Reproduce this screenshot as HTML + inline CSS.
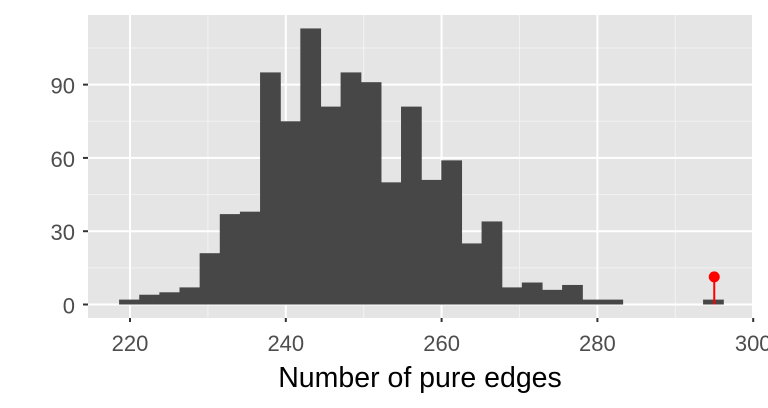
<!DOCTYPE html>
<html><head><meta charset="utf-8"><style>
body{margin:0;background:#fff;font-family:"Liberation Sans",Arial,sans-serif}
</style></head><body>
<svg width="768" height="403" id="c" xmlns="http://www.w3.org/2000/svg"></svg>
<script>
const counts=[2,4,5,7,21,37,38,95,75,113,81,95,91,50,81,51,59,25,34,7,9,6,8,2,2,0,0,0,0,2];
const binStart=218.6;
const binWidth=2.585;
const xTicks=[220,240,260,280,300];
const yTicks=[0,30,60,90];
const observed=[295.0,11.3];
const L=88,R=752,T=15,B=318;
const xs=v=>130+(v-220)*7.79;
const ys=v=>304.5-v*2.443;
const svg=document.getElementById('c');
const NS='http://www.w3.org/2000/svg';
function mk(t,a){const e=document.createElementNS(NS,t);for(const k in a)e.setAttribute(k,a[k]);svg.appendChild(e);return e;}
let p=mk('rect',{x:L,y:T,width:R-L,height:B-T,fill:'#e5e5e5'});


for(let i=0;i<xTicks.length-1;i++){const v=(xTicks[i]+xTicks[i+1])/2;const g=mk('line',{x1:xs(v),x2:xs(v),y1:T,y2:B,stroke:'#f2f2f2','stroke-width':1});}
for(let i=0;i<yTicks.length;i++){const v=yTicks[i]+15;const g=mk('line',{x1:L,x2:R,y1:ys(v),y2:ys(v),stroke:'#f2f2f2','stroke-width':1});}
xTicks.forEach(v=>{const g=mk('line',{x1:xs(v),x2:xs(v),y1:T,y2:B,stroke:'#fff','stroke-width':2});
const t=mk('line',{x1:xs(v),x2:xs(v),y1:B,y2:B+4,stroke:'#333','stroke-width':2});
const l=mk('text',{x:xs(v),y:351,'text-anchor':'middle','font-size':22,fill:'#4d4d4d'});l.textContent=v;});
yTicks.forEach(v=>{const g=mk('line',{x1:L,x2:R,y1:ys(v),y2:ys(v),stroke:'#fff','stroke-width':2});
const t=mk('line',{x1:L-5,x2:L,y1:ys(v),y2:ys(v),stroke:'#333','stroke-width':2});
const l=mk('text',{x:75,y:ys(v)+9,'text-anchor':'end','font-size':22,fill:'#4d4d4d'});l.textContent=v;});
counts.forEach((c,i)=>{if(c<=0)return;const x0=xs(binStart+i*binWidth),x1=xs(binStart+(i+1)*binWidth);
const b=mk('rect',{x:x0,y:ys(c),width:x1-x0+0.6,height:ys(0)-ys(c),fill:'#474747'});});
const sl=mk('line',{x1:xs(observed[0]),x2:xs(observed[0]),y1:ys(0),y2:ys(observed[1]),stroke:'#ff0000','stroke-width':2});
const pt=mk('circle',{cx:xs(observed[0]),cy:ys(observed[1]),r:5.5,fill:'#ff0000'});
const xt=mk('text',{x:420,y:387,'text-anchor':'middle','font-size':28.5,fill:'#000'});xt.textContent='Number of pure edges';
</script>
</body></html>
